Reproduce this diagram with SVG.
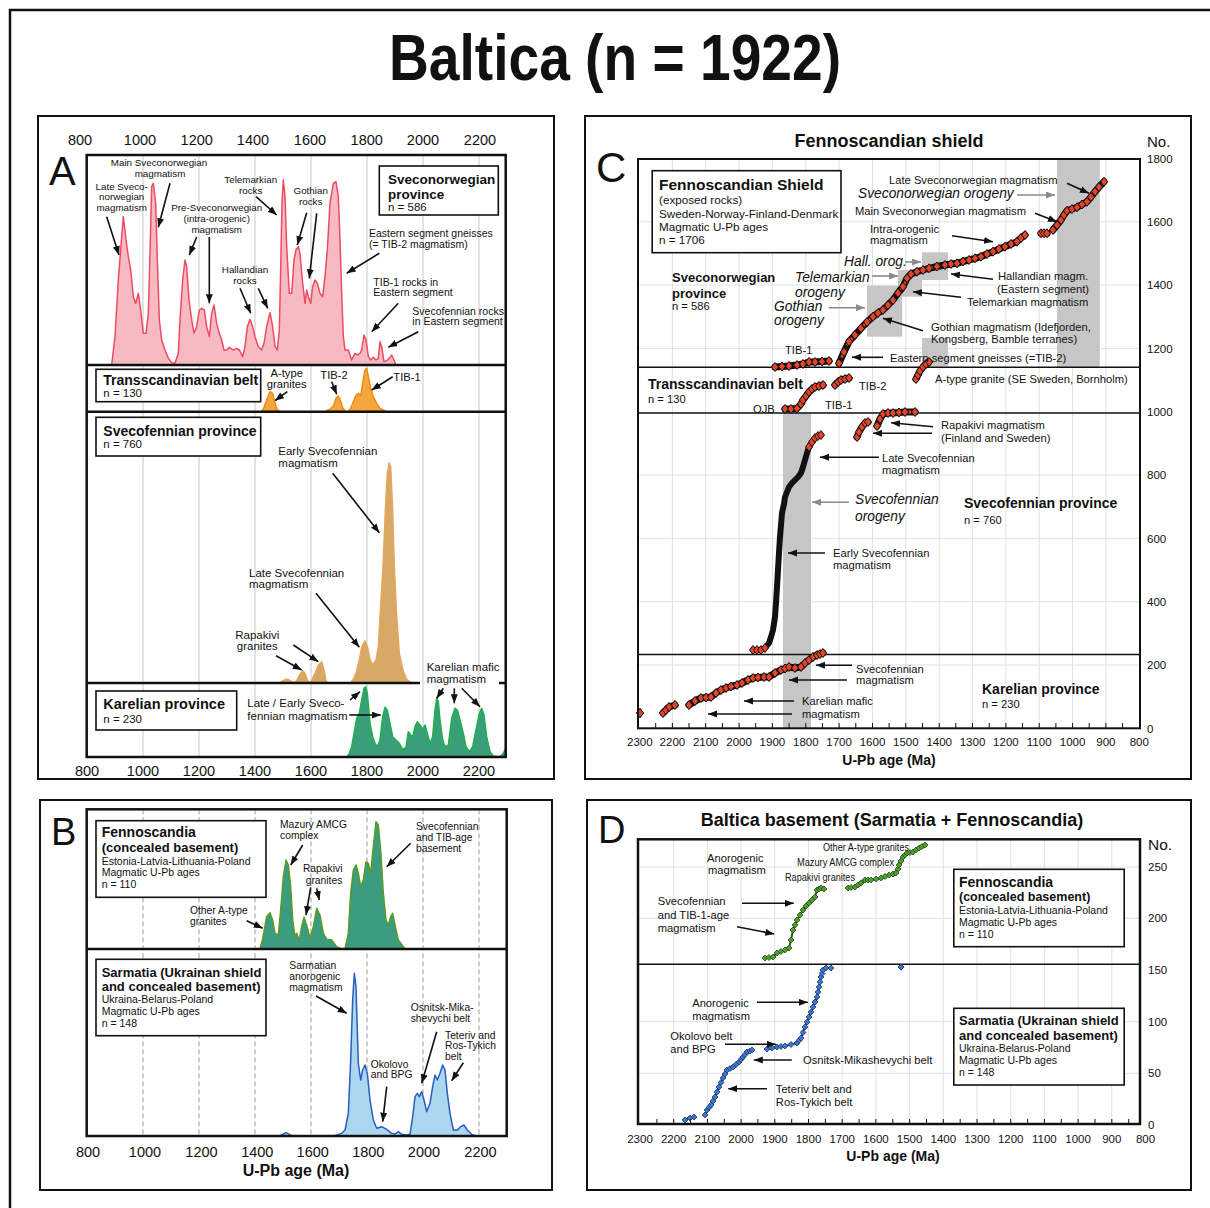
<svg xmlns="http://www.w3.org/2000/svg" width="1210" height="1208" viewBox="0 0 1210 1208">
<defs>
<style>
text{font-family:"Liberation Sans",Arial,Helvetica,sans-serif;fill:#111}
.b{font-weight:bold}
.gi{font-style:italic;fill:#8a8a8a}
.s9{font-size:9.8px}.s10{font-size:10.5px}.sb{font-size:10.3px}.s11{font-size:11.2px}.s12{font-size:11.7px}.s13{font-size:13px}.s14{font-size:14px}.ax{font-size:14.5px}.axs{font-size:11.5px}
.mid{text-anchor:middle}
.frame{fill:none;stroke:#111;stroke-width:2}
.pf{fill:none;stroke:#111;stroke-width:2.5}
.div{stroke:#111;stroke-width:2.5}
.cdiv{stroke:#111;stroke-width:1.6}
.grid{stroke:#c8c8c8;stroke-width:1}
.dgrid{stroke:#9a9a9a;stroke-width:1;stroke-dasharray:5 3}
.lgrid{stroke:#e0e0e0;stroke-width:1}
.box{fill:#fff;stroke:#111;stroke-width:1.6}
.arr{stroke:#111;stroke-width:1.6;fill:none;marker-end:url(#ah)}
.garr{stroke:#8a8a8a;stroke-width:1.6;fill:none;marker-end:url(#gah)}
.kde{vector-effect:non-scaling-stroke;stroke-width:1.5;stroke-linejoin:round}
.cb{fill:none;stroke:#111;stroke-width:7;stroke-linejoin:round;stroke-linecap:round}
.crd{fill:none;stroke:#e5442a;stroke-width:3;stroke-dasharray:3 3.5;marker-start:url(#dm);marker-mid:url(#dm);marker-end:url(#dm)}
.ck{fill:none;stroke:#111;stroke-width:6;stroke-linejoin:round;stroke-linecap:round}
.dgp{fill:none;stroke:#2c5a1c;stroke-width:2;stroke-linejoin:round;marker-start:url(#dg);marker-mid:url(#dg);marker-end:url(#dg)}
.dbp{fill:none;stroke:#1d3b78;stroke-width:2;stroke-linejoin:round;marker-start:url(#db);marker-mid:url(#db);marker-end:url(#db)}
.tick{stroke:#111;stroke-width:1}
.gbar{fill:#c6c6c6}
</style>
<marker id="ah" markerUnits="userSpaceOnUse" markerWidth="10" markerHeight="8" refX="9" refY="3.5" orient="auto"><path d="M0,0 L9,3.5 L0,7 Z" fill="#111"/></marker>
<marker id="gah" markerUnits="userSpaceOnUse" markerWidth="10" markerHeight="8" refX="9" refY="3.5" orient="auto"><path d="M0,0 L9,3.5 L0,7 Z" fill="#8a8a8a"/></marker>
<marker id="dm" markerUnits="userSpaceOnUse" markerWidth="9" markerHeight="11" refX="4.5" refY="5.5"><path d="M4.5,1 L8,5.5 L4.5,10 L1,5.5 Z" fill="#e5442a" stroke="#111" stroke-width="1"/></marker>
<marker id="dg" markerUnits="userSpaceOnUse" markerWidth="7" markerHeight="7" refX="3.5" refY="3.5"><path d="M3.5,0.5 L6.5,3.5 L3.5,6.5 L0.5,3.5 Z" fill="#4f9c2c" stroke="#24501a" stroke-width="0.8"/></marker>
<marker id="db" markerUnits="userSpaceOnUse" markerWidth="7" markerHeight="7" refX="3.5" refY="3.5"><path d="M3.5,0.5 L6.5,3.5 L3.5,6.5 L0.5,3.5 Z" fill="#3f74c2" stroke="#1d3b78" stroke-width="0.8"/></marker>
<polyline id="c1" points="775,367 782,366.5 789,366 797,365 803,364 809,362 815,362 822,361.5 829,361"/>
<polyline id="c2" points="839,363.3 844,352 849,341.7 855,335 861,328.3 867,322 873,316.7 878,313 883,310 888,305 893,300 898,293 903,286.7 907,278.3 911,274 917,271.7 923,270 929,268.3 937,266.5 945,265 951,264 957,263.3 963,261.5 969,260 975,258.3 981,256.7 987,254 993,251.7 999,249 1005,246.7 1011,244 1017,241.7 1021,238 1025,235"/>
<polyline id="c3" points="1041,233.3 1044,233.3 1047,233.3"/>
<polyline id="c4" points="1053,230 1057,225 1061,220 1064,215 1067,210.7 1072,209 1077,207.3 1082,204.5 1087,201.7 1091,197 1095,191.7 1099,187 1104,181.7"/>
<polyline id="c5" points="785,409 791,409 797,408.5 801,404 803,400 806,396 809,392 812,389 815,387 819,386 823,385"/>
<polyline id="c6" points="835,385 838,382 841,380 845,379 849,378"/>
<polyline id="c7" points="916,379 918,375 920,371 923,367 926,364 929,362"/>
<polyline id="c8" points="857,437 859,432 862,427 865,423 868,422"/>
<polyline id="c9" points="877,426 880,419 883,414 888,413 893,413 899,412.5 905,412 915,412"/>
<polyline id="c10" points="753,650 757,650 761,650 765,648"/>
<polyline id="c11" points="809,447 812,442 815,438 818,436 821,435"/>
<polyline id="c12" points="640,713 640,713.1"/>
<polyline id="c13" points="663,713 666,710 669,707 675,705"/>
<polyline id="c14" points="689,705 695,701 701,698 706,697.5 711,697 716,693 721,690 726,688 731,686.5 737,685 742,683 748,680 753,678 758,677.5 764,677 769,677 775,673 781,670 785,668.5 789,667 795,668 801,667 805,663 809,660 813,657 817,655 820,654 823,653"/>
</defs>
<rect x="0" y="0" width="1210" height="1208" fill="#fff"/>
<path d="M10,1208 V10 H1210" fill="none" stroke="#111" stroke-width="2.5"/>
<text x="615" y="80" class="b mid" font-size="64" textLength="452" lengthAdjust="spacingAndGlyphs">Baltica (n = 1922)</text>

<!-- ================= PANEL A ================= -->
<g id="panelA">
<rect x="38" y="116" width="516" height="663" class="frame"/>
<text x="49" y="184.5" font-size="40">A</text>
<g class="grid">
<line x1="143" y1="155" x2="143" y2="757"/><line x1="199" y1="155" x2="199" y2="757"/><line x1="255" y1="155" x2="255" y2="757"/><line x1="311" y1="155" x2="311" y2="757"/><line x1="367" y1="155" x2="367" y2="757"/><line x1="423" y1="155" x2="423" y2="757"/><line x1="479" y1="155" x2="479" y2="757"/>
</g>
<g transform="translate(40,120) scale(0.333333)">
<path class="kde" fill="#f7bac3" stroke="#ee4b62" d="M215,735 L225,650 L235,480 L245,350 L250,290 L258,360 L265,410 L272,450 L280,530 L287,550 L295,520 L302,570 L310,640 L318,640 L325,580 L330,400 L335,200 L340,190 L347,250 L352,420 L358,600 L365,660 L375,690 L385,715 L395,728 L405,730 L415,700 L420,600 L428,480 L435,420 L440,440 L447,540 L455,600 L462,640 L470,620 L478,570 L485,565 L493,570 L500,620 L508,650 L515,580 L522,555 L530,610 L538,640 L545,660 L552,690 L560,690 L568,682 L580,690 L590,685 L598,690 L608,710 L615,680 L622,620 L630,598 L638,620 L645,650 L655,680 L665,690 L672,670 L680,620 L690,578 L698,620 L705,680 L712,690 L718,630 L722,450 L726,250 L730,180 L735,230 L740,380 L748,520 L755,520 L762,420 L768,390 L775,380 L780,400 L787,480 L795,550 L800,510 L805,530 L812,550 L818,500 L825,480 L832,490 L840,520 L848,530 L855,470 L862,390 L870,250 L880,190 L888,185 L895,230 L900,360 L905,520 L910,650 L915,690 L925,690 L935,720 L945,700 L952,705 L960,700 L965,690 L972,645 L978,660 L985,710 L992,720 L1000,712 L1008,720 L1015,715 L1020,665 L1025,680 L1032,725 L1040,722 L1048,715 L1055,705 L1062,720 L1068,735 Z"/>
</g>
<g transform="translate(40,360) scale(0.333333)">
<path class="kde" fill="#f5a63c" stroke="#f08a14" d="M665,152 L670,148 L680,120 L690,95 L698,100 L705,130 L712,150 L718,152 Z M858,152 L870,148 L880,138 L888,115 L895,108 L900,118 L908,143 L915,152 Z M925,152 L932,145 L940,125 L948,105 L955,100 L962,108 L968,70 L975,30 L980,25 L985,50 L992,85 L1000,110 L1010,130 L1020,145 L1035,152 Z"/>
<path class="kde" fill="#d7a967" stroke="#e8a55c" d="M715,970 L728,963 L740,957 L750,962 L762,968 L770,962 L780,942 L788,932 L795,940 L802,960 L810,968 L815,962 L825,940 L835,915 L845,905 L852,930 L858,963 L865,970 Z M930,970 L940,958 L948,940 L958,900 L965,862 L975,842 L982,860 L990,898 L998,915 L1008,900 L1015,860 L1022,740 L1030,600 L1036,450 L1042,340 L1048,308 L1052,320 L1058,450 L1063,620 L1070,770 L1078,880 L1090,935 L1100,958 L1115,970 Z"/>
<path class="kde" fill="#3a9e78" stroke="#1fb04a" d="M920,1192 L928,1180 L935,1160 L942,1120 L950,1075 L958,1060 L965,1020 L972,985 L977,980 L982,1000 L990,1090 L998,1130 L1005,1150 L1012,1160 L1020,1140 L1028,1070 L1035,1042 L1042,1050 L1050,1090 L1058,1130 L1068,1140 L1078,1150 L1088,1168 L1098,1162 L1105,1115 L1112,1125 L1118,1130 L1125,1100 L1132,1085 L1140,1095 L1148,1108 L1155,1095 L1162,1120 L1170,1150 L1178,1130 L1185,1050 L1190,1015 L1195,1025 L1200,1080 L1208,1140 L1215,1160 L1225,1155 L1235,1075 L1245,1045 L1252,1050 L1260,1080 L1270,1120 L1278,1160 L1288,1175 L1298,1160 L1308,1110 L1318,1060 L1325,1045 L1332,1065 L1340,1130 L1350,1175 L1360,1188 L1380,1190 L1390,1180 L1397,1165 L1397,1192 Z"/>
</g>
<rect x="86.7" y="155" width="419" height="602" class="pf"/>
<line x1="86.7" y1="365" x2="505.7" y2="365" class="div"/>
<line x1="86.7" y1="411.7" x2="505.7" y2="411.7" class="div"/>
<line x1="86.7" y1="683" x2="420" y2="683" class="div"/>
<line x1="499" y1="683" x2="505.7" y2="683" class="div"/>
<g class="ax mid">
<text x="80" y="145">800</text><text x="140" y="145">1000</text><text x="196.7" y="145">1200</text><text x="253" y="145">1400</text><text x="310" y="145">1600</text><text x="366.7" y="145">1800</text><text x="423" y="145">2000</text><text x="480" y="145">2200</text>
<text x="87" y="776">800</text><text x="143" y="776">1000</text><text x="199" y="776">1200</text><text x="255" y="776">1400</text><text x="311" y="776">1600</text><text x="367" y="776">1800</text><text x="423" y="776">2000</text><text x="479" y="776">2200</text>
</g>
<g id="A-sveconorwegian">
<rect x="379.3" y="166" width="119" height="49" class="box"/>
<text x="388" y="184" class="b" font-size="13.5">Sveconorwegian</text>
<text x="388" y="199" class="b" font-size="13.5">province</text>
<text x="388" y="211" class="axs">n = 586</text>
<g class="s9 mid">
<text x="159" y="166">Main Sveconorwegian</text><text x="160" y="176.5">magmatism</text>
<text x="121.7" y="189.5">Late Sveco-</text><text x="121.7" y="200">norwegian</text><text x="121.7" y="210.5">magmatism</text>
<text x="250.7" y="182.5">Telemarkian</text><text x="250.7" y="193.5">rocks</text>
<text x="310.7" y="194">Gothian</text><text x="310.7" y="204.5">rocks</text>
<text x="216.7" y="211">Pre-Sveconorwegian</text><text x="216.7" y="221.8">(intra-orogenic)</text><text x="216.7" y="232.6">magmatism</text>
<text x="245" y="272.5">Hallandian</text><text x="245" y="283.5">rocks</text>
</g>
<g class="s10">
<text x="369" y="237">Eastern segment gneisses</text><text x="369" y="247.8">(= TIB-2 magmatism)</text>
<text x="373.3" y="285.5">TIB-1 rocks in</text><text x="373.3" y="296">Eastern segment</text>
<text x="412.3" y="314.5">Svecofennian rocks</text><text x="412.3" y="325">in Eastern segment</text>
</g>
</g>
<g id="A-transscandinavian">
<rect x="96" y="369.3" width="164.7" height="32.4" class="box"/>
<text x="103.3" y="385" class="b s14">Transscandinavian belt</text>
<text x="103.3" y="396.5" class="axs">n = 130</text>
<g class="s11 mid"><text x="286.7" y="377">A-type</text><text x="286.7" y="388">granites</text><text x="334" y="379">TIB-2</text></g>
<text x="393.3" y="381" class="s11">TIB-1</text>
</g>
<g id="A-svecofennian">
<rect x="96" y="417.3" width="164.7" height="38.7" class="box"/>
<text x="103.3" y="436" class="b s14">Svecofennian province</text>
<text x="103.3" y="448" class="axs">n = 760</text>
<g font-size="11.5px">
<text x="278.3" y="455">Early Svecofennian</text><text x="278.3" y="466.5">magmatism</text>
<text x="249" y="576.5">Late Svecofennian</text><text x="249" y="588">magmatism</text>
<text x="257.3" y="638.5" class="mid">Rapakivi</text><text x="257.3" y="650" class="mid">granites</text>
</g>
</g>
<g id="A-karelian">
<rect x="96" y="691" width="140.7" height="39" class="box"/>
<text x="103.3" y="708.5" class="b" font-size="14.5">Karelian province</text>
<text x="103.3" y="723" class="axs">n = 230</text>
<g font-size="11.5px">
<text x="247.3" y="707">Late / Early Sveco-</text><text x="247.3" y="719.5">fennian magmatism</text>
<text x="426.7" y="671">Karelian mafic</text><text x="426.7" y="682.5">magmatism</text>
</g>
</g>
</g>

<!-- ================= PANEL B ================= -->
<g id="panelB">
<rect x="40" y="800" width="512" height="390" class="frame"/>
<text x="51" y="845" font-size="38">B</text>
<g class="dgrid">
<line x1="143" y1="809.3" x2="143" y2="1136"/><line x1="199" y1="809.3" x2="199" y2="1136"/><line x1="255" y1="809.3" x2="255" y2="1136"/><line x1="311" y1="809.3" x2="311" y2="1136"/><line x1="367" y1="809.3" x2="367" y2="1136"/><line x1="423" y1="809.3" x2="423" y2="1136"/><line x1="479" y1="809.3" x2="479" y2="1136"/>
</g>
<g transform="translate(40,800) scale(0.333333)">
<path class="kde" fill="#3b9c80" stroke="#5a9a26" d="M660,447 L667,420 L672,395 L680,350 L690,338 L698,360 L705,400 L715,405 L722,330 L730,230 L738,180 L745,195 L752,260 L758,360 L765,410 L770,400 L778,420 L785,380 L792,352 L800,375 L810,415 L820,380 L830,325 L840,345 L850,400 L860,418 L875,420 L890,440 L905,447 Z M915,447 L925,400 L932,280 L940,210 L948,195 L955,220 L962,260 L970,240 L978,185 L985,190 L992,220 L1000,140 L1008,65 L1015,75 L1022,150 L1030,280 L1038,360 L1045,375 L1052,350 L1058,340 L1065,375 L1075,420 L1095,447 Z"/>
<path class="kde" fill="#aad7ee" stroke="#2b5cc0" d="M720,1007 L730,1002 L738,998 L748,1003 L755,1007 Z M885,1007 L905,1000 L915,990 L925,940 L932,780 L938,600 L943,520 L948,560 L955,790 L962,840 L968,810 L975,795 L982,820 L990,900 L1000,960 L1010,985 L1025,980 L1040,988 L1055,1000 L1065,1002 L1075,995 L1085,1003 L1100,1005 L1110,1003 L1118,950 L1125,890 L1132,880 L1138,890 L1145,875 L1152,900 L1160,935 L1170,910 L1178,860 L1185,825 L1192,840 L1200,820 L1208,795 L1215,810 L1222,880 L1230,940 L1240,990 L1252,990 L1262,980 L1272,975 L1282,990 L1295,1003 L1305,1007 Z"/>
</g>
<rect x="86.7" y="809.3" width="420" height="326.7" class="pf"/>
<line x1="86.7" y1="949" x2="506.7" y2="949" class="div"/>
<g class="ax mid">
<text x="88" y="1157">800</text><text x="145" y="1157">1000</text><text x="201.5" y="1157">1200</text><text x="257.3" y="1157">1400</text><text x="312.7" y="1157">1600</text><text x="368.3" y="1157">1800</text><text x="424" y="1157">2000</text><text x="480.5" y="1157">2200</text>
</g>
<text x="296" y="1176" class="b mid" font-size="16">U-Pb age (Ma)</text>
<g id="B-fennoscandia">
<rect x="96" y="820.7" width="170" height="76.6" class="box"/>
<text x="101.7" y="837" class="b s14">Fennoscandia</text>
<text x="101.7" y="852" class="b s13">(concealed basement)</text>
<text x="101.7" y="864.5" class="s10">Estonia-Latvia-Lithuania-Poland</text>
<text x="101.7" y="876.3" class="s10">Magmatic U-Pb ages</text>
<text x="101.7" y="888" class="s10">n = 110</text>
<g class="sb">
<text x="280" y="827.5">Mazury AMCG</text><text x="280" y="838.5">complex</text>
<text x="322.7" y="872" class="mid">Rapakivi</text><text x="324" y="883.5" class="mid">granites</text>
<text x="190" y="913.5">Other A-type</text><text x="190" y="924.5">granites</text>
<text x="416" y="830">Svecofennian</text><text x="416" y="840.8">and TIB-age</text><text x="416" y="851.6">basement</text>
</g>
</g>
<g id="B-sarmatia">
<rect x="96" y="959.3" width="170" height="76.4" class="box"/>
<text x="101.7" y="976.5" class="b s13">Sarmatia (Ukrainan shield</text>
<text x="101.7" y="991" class="b s13">and concealed basement)</text>
<text x="101.7" y="1003" class="s10">Ukraina-Belarus-Poland</text>
<text x="101.7" y="1015" class="s10">Magmatic U-Pb ages</text>
<text x="101.7" y="1026.5" class="s10">n = 148</text>
<g class="sb">
<text x="289.3" y="969">Sarmatian</text><text x="289.3" y="979.8">anorogenic</text><text x="289.3" y="990.6">magmatism</text>
<text x="410.7" y="1011">Osnitsk-Mika-</text><text x="410.7" y="1022">shevychi belt</text>
<text x="445" y="1038.5">Teteriv and</text><text x="445" y="1049.3">Ros-Tykich</text><text x="445" y="1060.1">belt</text>
<text x="370.7" y="1067.5">Okolovo</text><text x="370.7" y="1078.3">and BPG</text>
</g>
</g>
</g>

<!-- ================= PANEL C ================= -->
<g id="panelC">
<rect x="585" y="116" width="606" height="663" class="frame"/>
<text x="596" y="182" font-size="42">C</text>
<text x="889" y="147" class="b mid" font-size="18">Fennoscandian shield</text>
<text x="1147" y="146.5" font-size="15">No.</text>
<g class="lgrid">
<line x1="672.4" y1="159" x2="672.4" y2="728.3"/><line x1="705.7" y1="159" x2="705.7" y2="728.3"/><line x1="739.1" y1="159" x2="739.1" y2="728.3"/><line x1="772.4" y1="159" x2="772.4" y2="728.3"/><line x1="805.8" y1="159" x2="805.8" y2="728.3"/><line x1="839.1" y1="159" x2="839.1" y2="728.3"/><line x1="872.5" y1="159" x2="872.5" y2="728.3"/><line x1="905.8" y1="159" x2="905.8" y2="728.3"/><line x1="939.2" y1="159" x2="939.2" y2="728.3"/><line x1="972.5" y1="159" x2="972.5" y2="728.3"/><line x1="1005.9" y1="159" x2="1005.9" y2="728.3"/><line x1="1039.2" y1="159" x2="1039.2" y2="728.3"/><line x1="1072.6" y1="159" x2="1072.6" y2="728.3"/><line x1="1105.9" y1="159" x2="1105.9" y2="728.3"/>
<line x1="638" y1="665" x2="1140" y2="665"/><line x1="638" y1="601.7" x2="1140" y2="601.7"/><line x1="638" y1="538.3" x2="1140" y2="538.3"/><line x1="638" y1="475" x2="1140" y2="475"/><line x1="638" y1="348.4" x2="1140" y2="348.4"/><line x1="638" y1="285" x2="1140" y2="285"/><line x1="638" y1="221.8" x2="1140" y2="221.8"/>
</g>
<rect x="1057" y="159" width="42.8" height="208.3" class="gbar"/>
<rect x="783" y="413" width="28" height="315.3" class="gbar"/>
<rect x="867" y="285.7" width="35.2" height="51" class="gbar"/>
<rect x="898" y="270" width="24" height="26.7" class="gbar"/>
<rect x="922" y="252.3" width="26" height="27.7" class="gbar"/>
<rect x="922" y="338" width="26" height="28.7" class="gbar"/>
<line x1="638" y1="367.3" x2="1140" y2="367.3" class="cdiv"/>
<line x1="638" y1="413" x2="1140" y2="413" class="cdiv"/>
<line x1="638" y1="654.5" x2="1140" y2="654.5" class="cdiv"/>
<g id="C-data">
<use href="#c1" class="cb"/><use href="#c1" class="crd"/>
<use href="#c2" class="cb"/><use href="#c2" class="crd"/>
<use href="#c3" class="cb"/><use href="#c3" class="crd"/>
<use href="#c4" class="cb"/><use href="#c4" class="crd"/>
<use href="#c5" class="cb"/><use href="#c5" class="crd"/>
<use href="#c6" class="cb"/><use href="#c6" class="crd"/>
<use href="#c7" class="cb"/><use href="#c7" class="crd"/>
<use href="#c8" class="cb"/><use href="#c8" class="crd"/>
<use href="#c9" class="cb"/><use href="#c9" class="crd"/>
<polyline class="ck" points="753,650 761,650 765,648 769,643 771,637 773,630 775,617 776,603 777,587 778,570 779,553 780,537 781,525 782,513 784,504 785,497 787,492 789,487 792,483 795,480 798,477 801,473 803,467 805,460 807,453 809,447 812,442 815,438 818,436 821,435"/>
<use href="#c10" class="crd"/>
<use href="#c11" class="crd"/>
<use href="#c12" class="crd"/>
<use href="#c13" class="cb"/><use href="#c13" class="crd"/>
<use href="#c14" class="cb"/><use href="#c14" class="crd"/>
</g>
<rect x="638" y="159" width="502" height="569.3" class="frame"/>
<path class="tick" d="M655.7,728v-5M672.4,728v-5M689,728v-5M705.7,728v-5M722.4,728v-5M739.1,728v-5M755.7,728v-5M772.4,728v-5M789.1,728v-5M805.8,728v-5M822.4,728v-5M839.1,728v-5M855.8,728v-5M872.5,728v-5M889.1,728v-5M905.8,728v-5M922.5,728v-5M939.2,728v-5M955.8,728v-5M972.5,728v-5M989.2,728v-5M1005.9,728v-5M1022.5,728v-5M1039.2,728v-5M1055.9,728v-5M1072.6,728v-5M1089.2,728v-5M1105.9,728v-5M1122.6,728v-5"/>
<g class="axs">
<text x="1147" y="163">1800</text><text x="1147" y="226">1600</text><text x="1147" y="289">1400</text><text x="1147" y="352.5">1200</text><text x="1147" y="416">1000</text><text x="1147" y="479">800</text><text x="1147" y="542.5">600</text><text x="1147" y="606">400</text><text x="1147" y="669">200</text><text x="1147" y="732.5">0</text>
</g>
<g class="axs mid">
<text x="639.8" y="745.5">2300</text><text x="672.4" y="745.5">2200</text><text x="705.7" y="745.5">2100</text><text x="739.1" y="745.5">2000</text><text x="772.4" y="745.5">1900</text><text x="805.8" y="745.5">1800</text><text x="839.1" y="745.5">1700</text><text x="872.5" y="745.5">1600</text><text x="905.8" y="745.5">1500</text><text x="939.2" y="745.5">1400</text><text x="972.5" y="745.5">1300</text><text x="1005.9" y="745.5">1200</text><text x="1039.2" y="745.5">1100</text><text x="1072.6" y="745.5">1000</text><text x="1105.9" y="745.5">900</text><text x="1139.3" y="745.5">800</text>
</g>
<text x="889" y="765" class="b mid s14">U-Pb age (Ma)</text>
<g id="C-legend">
<rect x="652.2" y="170.7" width="188.8" height="82" class="box"/>
<text x="659" y="189.5" class="b" font-size="15.5">Fennoscandian Shield</text>
<text x="659" y="204" class="s12">(exposed rocks)</text>
<text x="659" y="217.5" class="s12">Sweden-Norway-Finland-Denmark</text>
<text x="659" y="230.5" class="s12">Magmatic U-Pb ages</text>
<text x="659" y="243.5" class="s12">n = 1706</text>
</g>
<g id="C-labels" class="s11">
<text x="889" y="184">Late Sveconorwegian magmatism</text>
<text x="855" y="215">Main Sveconorwegian magmatism</text>
<text x="870" y="232.5">Intra-orogenic</text><text x="870" y="244">magmatism</text>
<text x="1043" y="280" class="mid">Hallandian magm.</text><text x="1043" y="292.5" class="mid">(Eastern segment)</text>
<text x="967" y="305.5">Telemarkian magmatism</text>
<text x="931" y="330.5">Gothian magmatism (Idefjorden,</text><text x="931" y="343">Kongsberg, Bamble terranes)</text>
<text x="890" y="361.5">Eastern segment gneisses (=TIB-2)</text>
<text x="785" y="354">TIB-1</text>
<text x="859" y="390">TIB-2</text>
<text x="825" y="409">TIB-1</text>
<text x="753" y="412.5">OJB</text>
<text x="935" y="383">A-type granite (SE Sweden, Bornholm)</text>
<text x="941" y="428.5">Rapakivi magmatism</text><text x="941" y="442">(Finland and Sweden)</text>
<text x="882" y="461.5">Late Svecofennian</text><text x="882" y="474">magmatism</text>
<text x="833" y="556.5">Early Svecofennian</text><text x="833" y="569">magmatism</text>
<text x="856" y="672.5">Svecofennian</text><text x="856" y="684">magmatism</text>
<text x="802" y="705">Karelian mafic</text><text x="802" y="718">magmatism</text>
</g>
<g id="C-orogenies" class="gi" font-size="13.8px">
<text x="858" y="198">Sveconorwegian orogeny</text>
<text x="844" y="266">Hall. orog.</text>
<text x="795" y="281.5">Telemarkian</text><text x="795" y="296.5">orogeny</text>
<text x="774" y="310.5">Gothian</text><text x="774" y="325">orogeny</text>
<text x="855" y="504">Svecofennian</text><text x="855" y="520.5">orogeny</text>
</g>
<g id="C-provinces">
<text x="672" y="282" class="b s13">Sveconorwegian</text><text x="672" y="297.5" class="b s13">province</text><text x="672" y="310" class="s11">n = 586</text>
<text x="648" y="389" class="b s14">Transscandinavian belt</text><text x="648" y="402.5" class="s11">n = 130</text>
<text x="964" y="507.5" class="b s14">Svecofennian province</text><text x="964" y="523.5" class="s11">n = 760</text>
<text x="982" y="693.5" class="b s14">Karelian province</text><text x="982" y="708" class="s11">n = 230</text>
</g>
</g>

<!-- ================= PANEL D ================= -->
<g id="panelD">
<rect x="587" y="800" width="604" height="390" class="frame"/>
<text x="598" y="843" font-size="38">D</text>
<text x="892" y="826" class="b mid" font-size="18">Baltica basement (Sarmatia + Fennoscandia)</text>
<text x="1148" y="850" font-size="15.5">No.</text>
<g class="lgrid">
<line x1="673.7" y1="839.3" x2="673.7" y2="1124"/><line x1="707.4" y1="839.3" x2="707.4" y2="1124"/><line x1="741.1" y1="839.3" x2="741.1" y2="1124"/><line x1="774.8" y1="839.3" x2="774.8" y2="1124"/><line x1="808.5" y1="839.3" x2="808.5" y2="1124"/><line x1="842.2" y1="839.3" x2="842.2" y2="1124"/><line x1="875.9" y1="839.3" x2="875.9" y2="1124"/><line x1="909.6" y1="839.3" x2="909.6" y2="1124"/><line x1="943.3" y1="839.3" x2="943.3" y2="1124"/><line x1="977" y1="839.3" x2="977" y2="1124"/><line x1="1010.7" y1="839.3" x2="1010.7" y2="1124"/><line x1="1044.4" y1="839.3" x2="1044.4" y2="1124"/><line x1="1078.1" y1="839.3" x2="1078.1" y2="1124"/><line x1="1111.8" y1="839.3" x2="1111.8" y2="1124"/>
<line x1="638" y1="867" x2="1140" y2="867"/><line x1="638" y1="918.3" x2="1140" y2="918.3"/><line x1="638" y1="1021.7" x2="1140" y2="1021.7"/><line x1="638" y1="1073.3" x2="1140" y2="1073.3"/>
</g>
<line x1="638" y1="964.3" x2="1140" y2="964.3" class="cdiv"/>
<g id="D-data">
<polyline class="dgp" points="765,958 769,957.5 773,957 777,953 781,951.5 785,950 789,948 791,940 793,930 795,925 797,920 800,915 803,910 806,906 809,903 812,900 815,897 817,890 819,889 821,888 824,889"/>
<polyline class="dgp" points="848,888 851,887.5 855,887 858,885 861,883 865,880 868,880 871,880 876,879 881,878 885,876.5 889,875 893,874 896,873 898,869 899,865 901,861 903,857 905,855 907,853 910,852.5 913,852 916,850 919,848 922,846.5 925,845"/>
<polyline class="dbp" points="685,1120 690,1118 694,1117"/>
<polyline class="dbp" points="705,1115 707,1110 709,1107.5 711,1105 713,1101 715,1097 717,1092 719,1087 721,1082.5 723,1078 725,1074 727,1070 730,1068.5 733,1067 736,1064.5 739,1062 741,1059.5 743,1057 745,1054.5 747,1052 750,1051 752,1050"/>
<polyline class="dbp" points="767,1049 772,1048 777,1047 781,1046.5 785,1046 791,1044.5 797,1043 799,1040.5 801,1038 803,1032.5 805,1027 807,1022 809,1017 811,1012 813,1007 815,1002 817,997 818,992 819,987 820,982 821,977 822,973.5 823,970 826,968 831,968"/>
<polyline class="dbp" points="901,967 901,967.1"/>
</g>
<rect x="638" y="839.3" width="502" height="284.7" class="pf"/>
<path class="tick" d="M656.9,1124v-5M673.7,1124v-5M690.6,1124v-5M707.4,1124v-5M724.3,1124v-5M741.1,1124v-5M757.9,1124v-5M774.8,1124v-5M791.7,1124v-5M808.5,1124v-5M825.4,1124v-5M842.2,1124v-5M859.1,1124v-5M875.9,1124v-5M892.8,1124v-5M909.6,1124v-5M926.5,1124v-5M943.3,1124v-5M960.2,1124v-5M977,1124v-5M993.9,1124v-5M1010.7,1124v-5M1027.6,1124v-5M1044.4,1124v-5M1061.3,1124v-5M1078.1,1124v-5M1095,1124v-5M1111.8,1124v-5M1128.7,1124v-5"/>
<g class="axs">
<text x="1148" y="871">250</text><text x="1148" y="922">200</text><text x="1148" y="974">150</text><text x="1148" y="1026">100</text><text x="1148" y="1077">50</text><text x="1148" y="1129">0</text>
</g>
<g class="axs mid">
<text x="640" y="1142.5">2300</text><text x="673.7" y="1142.5">2200</text><text x="707.4" y="1142.5">2100</text><text x="741.1" y="1142.5">2000</text><text x="774.8" y="1142.5">1900</text><text x="808.5" y="1142.5">1800</text><text x="842.2" y="1142.5">1700</text><text x="875.9" y="1142.5">1600</text><text x="909.6" y="1142.5">1500</text><text x="943.3" y="1142.5">1400</text><text x="977" y="1142.5">1300</text><text x="1010.7" y="1142.5">1200</text><text x="1044.4" y="1142.5">1100</text><text x="1078.1" y="1142.5">1000</text><text x="1111.8" y="1142.5">900</text><text x="1145.5" y="1142.5">800</text>
</g>
<text x="893" y="1161" class="b mid s14">U-Pb age (Ma)</text>
<g id="D-fennoscandia">
<rect x="953.8" y="869.3" width="170.4" height="77.4" class="box"/>
<text x="959" y="886.5" class="b s14">Fennoscandia</text>
<text x="959" y="901" class="b" font-size="12.5">(concealed basement)</text>
<text x="959" y="913.5" class="s10">Estonia-Latvia-Lithuania-Poland</text>
<text x="959" y="926" class="s10">Magmatic U-Pb ages</text>
<text x="959" y="938" class="s10">n = 110</text>
</g>
<g id="D-sarmatia">
<rect x="953.8" y="1008.3" width="170.4" height="76.7" class="box"/>
<text x="959" y="1025" class="b s13">Sarmatia (Ukrainan shield</text>
<text x="959" y="1040" class="b s13">and concealed basement)</text>
<text x="959" y="1052" class="s10">Ukraina-Belarus-Poland</text>
<text x="959" y="1064" class="s10">Magmatic U-Pb ages</text>
<text x="959" y="1076" class="s10">n = 148</text>
</g>
<g id="D-labels" class="s11">
<text x="823" y="851" font-size="10" textLength="86" lengthAdjust="spacingAndGlyphs">Other A-type granites</text>
<text x="797" y="865.5" font-size="10" textLength="97" lengthAdjust="spacingAndGlyphs">Mazury AMCG complex</text>
<text x="785" y="880.5" font-size="10" textLength="70" lengthAdjust="spacingAndGlyphs">Rapakivi granites</text>
<text x="707" y="861.5">Anorogenic</text><text x="708" y="874">magmatism</text>
<text x="657.8" y="905">Svecofennian</text><text x="657.8" y="918.5">and TIB-1-age</text><text x="657.8" y="932">magmatism</text>
<text x="692.2" y="1006.5">Anorogenic</text><text x="692.2" y="1020">magmatism</text>
<text x="670.2" y="1040">Okolovo belt</text><text x="670.2" y="1052.5">and BPG</text>
<text x="803" y="1064">Osnitsk-Mikashevychi belt</text>
<text x="775.8" y="1092.5">Teteriv belt and</text><text x="775.8" y="1105.5">Ros-Tykich belt</text>
</g>
</g>

<!-- ================= CONNECTORS ================= -->
<g id="connectors">
<g class="arr">
<line x1="170" y1="183.3" x2="158.3" y2="227.3"/>
<line x1="106.7" y1="216.7" x2="119" y2="255"/>
<line x1="256" y1="196.7" x2="276.7" y2="215"/>
<line x1="306.7" y1="212.7" x2="297.3" y2="245"/>
<line x1="316.7" y1="213.3" x2="309.3" y2="278.3"/>
<line x1="196.7" y1="237" x2="189.3" y2="255"/>
<line x1="209.3" y1="237" x2="209.3" y2="303.3"/>
<line x1="240" y1="288.3" x2="250.7" y2="313.3"/>
<line x1="258.3" y1="288.3" x2="267.7" y2="308.3"/>
<line x1="379.3" y1="253.3" x2="346.7" y2="273.3"/>
<line x1="398.3" y1="303.3" x2="371.7" y2="331.7"/>
<line x1="418.3" y1="331.7" x2="388.3" y2="347.3"/>
<line x1="287.3" y1="391.7" x2="275" y2="400.7"/>
<line x1="331.7" y1="381.7" x2="336.7" y2="394.3"/>
<line x1="392.7" y1="376.7" x2="371.7" y2="390"/>
<line x1="332.7" y1="473.3" x2="379.3" y2="532.7"/>
<line x1="316" y1="593.3" x2="359.3" y2="647.3"/>
<line x1="276" y1="655.7" x2="301.7" y2="670"/>
<line x1="293.3" y1="645" x2="318.3" y2="661.7"/>
<line x1="350" y1="700" x2="360" y2="691.7"/>
<line x1="349.3" y1="715" x2="380.7" y2="715"/>
<line x1="443.3" y1="688.3" x2="436.7" y2="698.3"/>
<line x1="454.3" y1="688.3" x2="454.3" y2="703.3"/>
<line x1="461.7" y1="688.3" x2="480" y2="706.7"/>
<line x1="302.7" y1="845" x2="290.7" y2="865"/>
<line x1="310.7" y1="887.3" x2="306" y2="915"/>
<line x1="316.7" y1="888.3" x2="319.3" y2="900"/>
<line x1="246.7" y1="920.7" x2="262.7" y2="928.3"/>
<line x1="410.7" y1="843.3" x2="386.7" y2="866.7"/>
<line x1="316" y1="996" x2="346.7" y2="1013.3"/>
<line x1="436.7" y1="1031.7" x2="421.7" y2="1083.3"/>
<line x1="463.3" y1="1062.7" x2="451.7" y2="1080.7"/>
<line x1="386.7" y1="1086.7" x2="382.7" y2="1121.7"/>
<line x1="1067" y1="183.3" x2="1089" y2="193.3"/>
<line x1="1035" y1="213.3" x2="1057" y2="221.7"/>
<line x1="952" y1="235.7" x2="993" y2="241.7"/>
<line x1="993" y1="279.3" x2="951" y2="274"/>
<line x1="961" y1="297.3" x2="913" y2="291.7"/>
<line x1="923" y1="330.7" x2="883" y2="318.3"/>
<line x1="883" y1="357.3" x2="852" y2="357.3"/>
<line x1="933" y1="426.7" x2="891" y2="422.7"/>
<line x1="932" y1="433.3" x2="873" y2="433.3"/>
<line x1="879" y1="457.3" x2="820" y2="457.3"/>
<line x1="825" y1="553" x2="788" y2="553"/>
<line x1="852" y1="665.3" x2="816" y2="665.3"/>
<line x1="847" y1="680" x2="789" y2="680"/>
<line x1="794" y1="701" x2="744" y2="701"/>
<line x1="792" y1="714" x2="708" y2="714"/>
<line x1="742" y1="903.3" x2="793.8" y2="903.3"/>
<line x1="737" y1="926.7" x2="774.2" y2="934"/>
<line x1="757" y1="1002.3" x2="807.8" y2="1002.3"/>
<line x1="725" y1="1044.3" x2="775.8" y2="1044.3"/>
<line x1="791.8" y1="1060" x2="753.8" y2="1060"/>
<line x1="767" y1="1088.7" x2="728.2" y2="1088.7"/>
</g>
<g class="garr">
<line x1="1017" y1="195" x2="1055" y2="195"/>
<line x1="905" y1="262" x2="921" y2="262"/>
<line x1="872" y1="276" x2="898" y2="276"/>
<line x1="829" y1="307.7" x2="865" y2="307.7"/>
<line x1="849" y1="502.3" x2="812" y2="502.3"/>
</g>
</g>
</svg>
